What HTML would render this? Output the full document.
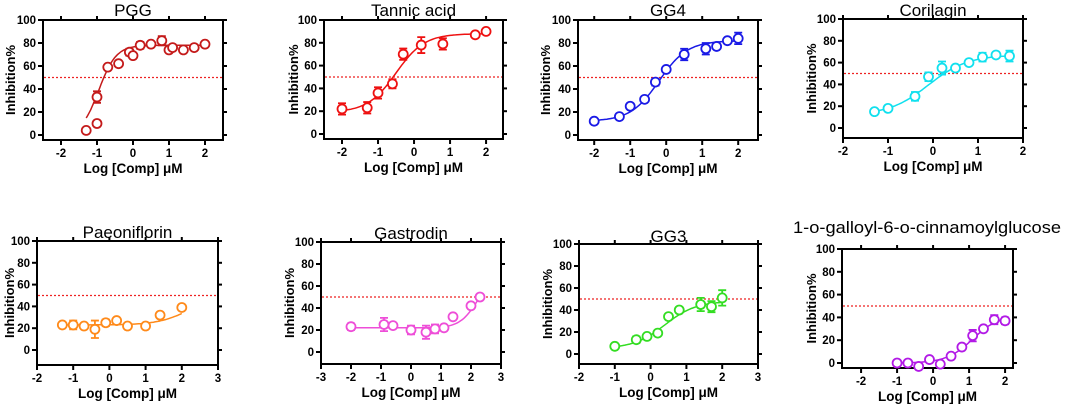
<!DOCTYPE html>
<html><head><meta charset="utf-8"><style>
html,body{margin:0;padding:0;background:#fff;width:1065px;height:406px;overflow:hidden}
svg{display:block}
text{font-family:"Liberation Sans",sans-serif}
</style></head><body>
<svg id="fig" width="1065" height="406" xmlns="http://www.w3.org/2000/svg"></svg>
<script>
// ---- data ----
const titles = ["PGG","Tannic acid","GG4","Corilagin","Paeoniflorin","Gastrodin","GG3","1-o-galloyl-6-o-cinnamoylglucose"];
const colors = ["#c41a1a","#ee1111","#1a1ae6","#11e0ee","#ff8a1a","#ee4ed8","#33dd22","#b21ae6"];
const xTicks = [[-2,-1,0,1,2],[-2,-1,0,1,2],[-2,-1,0,1,2],[-2,-1,0,1,2],[-2,-1,0,1,2,3],[-3,-2,-1,0,1,2,3],[-2,-1,0,1,2,3],[-2,-1,0,1,2]];
const yTicks = [0,20,40,60,80,100];
const xs0 = [-1.3,-1,-1,-0.7,-0.4,-0.1,0,0.2,0.5,0.8,1,1.1,1.4,1.7,2];
const ys0 = [4,10,33,59,62,72,69,78,79,82,74,76,74,76,79];
const es0 = [0,0,5,0,0,3,0,3,0,4,0,0,0,0,0];
const xs1 = [-2,-1.3,-1,-0.6,-0.3,0.2,0.8,1.7,2];
const ys1 = [22,23,36,44,70,78,79,87,90];
const es1 = [5,5,5,4,5,7,5,2,0];
const xs2 = [-2,-1.3,-1,-0.6,-0.3,0,0.5,1.1,1.4,1.7,2];
const ys2 = [12,16,25,31,46,57,70,75,77,82,84];
const es2 = [0,2,0,0,3,0,5,5,0,0,5];
const xs3 = [-1.3,-1,-0.4,-0.1,0.2,0.5,0.8,1.1,1.4,1.7];
const ys3 = [15,18,29,47,55,55,60,65,67,66];
const es3 = [0,0,4,4,6,0,0,4,0,5];
const xs4 = [-1.3,-1,-0.7,-0.4,-0.1,0.2,0.5,1,1.4,2];
const ys4 = [23,23,22,19,25,27,22,22,32,39];
const es4 = [0,4,0,8,3,0,0,0,0,0];
const xs5 = [-2,-0.9,-0.6,0,0.5,0.8,1.1,1.4,2,2.3];
const ys5 = [23,25,24,20,18,21,22,32,42,50];
const es5 = [3,6,0,4,6,4,0,0,0,0];
const xs6 = [-1,-0.4,-0.1,0.2,0.5,0.8,1.4,1.7,2];
const ys6 = [7,13,16,19,34,40,45,43,51];
const es6 = [0,3,0,0,0,0,6,5,7];
const xs7 = [-1,-0.7,-0.4,-0.1,0.2,0.5,0.8,1.1,1.4,1.7,2];
const ys7 = [0,0,-3,3,-1,6,14,24,30,38,37];
const es7 = [0,0,0,0,0,0,0,5,0,4,3];
// 4PL fit params: bottom, top, logIC50, hill
const fitBottom = [0,19,12,12,23,22,5,0];
const fitTop = [78,88,82,67,50,70,48,42];
const fitIC = [-0.95,-0.5,-0.2,-0.1,2.2,2.2,0.4,1.1];
const fitHill = [1.8,1.1,1.1,1.0,1.0,1.5,1.0,1.2];
const allX=[xs0,xs1,xs2,xs3,xs4,xs5,xs6,xs7], allY=[ys0,ys1,ys2,ys3,ys4,ys5,ys6,ys7], allE=[es0,es1,es2,es3,es4,es5,es6,es7];

// ---- layout ----
const frames = [
 {l:43,r:223,t:20,b:140,x0:-2.5,x1:2.5,y0:135,y100:20,ty:16,yo:32},
 {l:324,r:503,t:20,b:139,x0:-2.5,x1:2.47,y0:134,y100:20,ty:16,yo:30},
 {l:578,r:758,t:20,b:140,x0:-2.45,x1:2.55,y0:135,y100:20,ty:16,yo:32},
 {l:843,r:1023,t:19,b:138,x0:-2,x1:2,y0:128,y100:19,ty:16,yo:31},
 {l:37,r:218,t:241,b:365,x0:-2,x1:3,y0:350,y100:241,ty:238,yo:27},
 {l:321,r:501,t:242,b:364,x0:-3,x1:3,y0:352,y100:242,ty:239,yo:31},
 {l:579,r:758,t:244,b:364,x0:-2,x1:3,y0:354,y100:244,ty:242,yo:31},
 {l:842,r:1013,t:249,b:368,x0:-2.53,x1:2.22,y0:363,y100:249,ty:233,yo:30}
];
const NS="http://www.w3.org/2000/svg";
const svg=document.getElementById('fig');
function mk(tag,attrs,parent){const e=document.createElementNS(NS,tag);for(const k in attrs)e.setAttribute(k,attrs[k]);(parent||svg).appendChild(e);return e;}

frames.forEach((f,i)=>{
  const g=mk('g',{});
  
  
  const X=v=>f.l+(v-f.x0)/(f.x1-f.x0)*(f.r-f.l);
  const Y=v=>f.y0+(v/100)*(f.y100-f.y0);
  const c=colors[i];
  // title
  let t;
  if(i==7){
    t=mk('text',{x:793,y:f.ty,'font-size':'17',textLength:268,lengthAdjust:'spacingAndGlyphs'},g);
  } else {
    t=mk('text',{x:(f.l+f.r)/2,y:f.ty,'text-anchor':'middle','font-size':'17'},g);
  }
  t.textContent=titles[i];
  
  
  // frame
  const fr=mk('rect',{x:f.l,y:f.t,width:f.r-f.l,height:f.b-f.t,fill:'none',stroke:'#000','stroke-width':2},g);
  
  
  // y ticks
  yTicks.forEach(v=>{
    const y=Y(v);
    mk('line',{x1:f.l-5,x2:f.l,y1:y,y2:y,stroke:'#000','stroke-width':2},g);
    mk('line',{x1:f.r,x2:f.r+4,y1:y,y2:y,stroke:'#000','stroke-width':2},g);
    const tl=mk('text',{x:f.l-7,y:y+4,'text-anchor':'end','font-size':'11.5','font-weight':'bold'},g);
    tl.textContent=v;
    
    
  });
  // x ticks
  xTicks[i].forEach(v=>{
    const x=X(v);
    mk('line',{x1:x,x2:x,y1:f.b,y2:f.b+5,stroke:'#000','stroke-width':2},g);
    mk('line',{x1:x,x2:x,y1:f.t-4,y2:f.t,stroke:'#000','stroke-width':2},g);
    const tl=mk('text',{x:x,y:f.b+17,'text-anchor':'middle','font-size':'11.5','font-weight':'bold'},g);
    tl.textContent=v;
    
    
  });
  // axis titles
  const xt=mk('text',{x:(f.l+f.r)/2,y:f.b+33,'text-anchor':'middle','font-size':'13.5','font-weight':'bold'},g);
  xt.textContent='Log [Comp] μM';
  
  
  const yx=f.l-f.yo+4, yc=(f.t+f.b)/2;
  const yt=mk('text',{x:yx,y:yc,'text-anchor':'middle','font-size':'13','font-weight':'bold',transform:`rotate(-90 ${yx} ${yc})`},g);
  yt.textContent='Inhibition%';
  
  
  // 50% line
  const rl=mk('line',{x1:f.l+1,x2:f.r-1,y1:Y(50),y2:Y(50),stroke:'#ee2222','stroke-width':1.2,'stroke-dasharray':'2,2'},g);
  
  
  // fit curve
  const xs=allX[i],ys=allY[i],es=allE[i];
  const xa=Math.min(...xs),xb=Math.max(...xs);
  let d='';
  for(let k=0;k<=80;k++){
    const xv=xa+(xb-xa)*k/80;
    const yv=fitBottom[i]+(fitTop[i]-fitBottom[i])/(1+Math.pow(10,(fitIC[i]-xv)*fitHill[i]));
    d+=(k?'L':'M')+X(xv).toFixed(1)+','+Y(yv).toFixed(1);
  }
  const cv=mk('path',{d:d,fill:'none',stroke:c,'stroke-width':1.5},g);
  
  
  // points
  xs.forEach((xv,k)=>{
    const px=X(xv),py=Y(ys[k]);
    if(es[k]>0){
      const e1=Y(ys[k]+es[k]),e2=Y(ys[k]-es[k]);
      mk('path',{d:`M${px},${e1}L${px},${e2}M${px-4},${e1}L${px+4},${e1}M${px-4},${e2}L${px+4},${e2}`,stroke:c,'stroke-width':1.8,fill:'none'},g);
    }
    const p=mk('circle',{cx:px,cy:py,r:4.5,fill:'#fff',stroke:c,'stroke-width':1.8},g);
    
    
  });
});
</script>
</body></html>
